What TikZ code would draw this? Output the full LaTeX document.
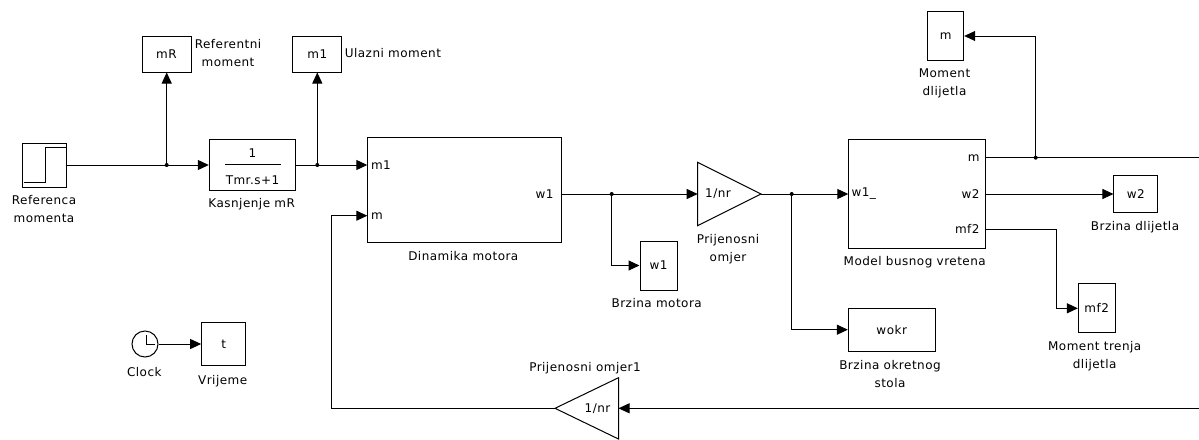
\documentclass[tikz,border=0pt]{standalone}
\usepackage{fontspec}
\setmainfont{DejaVu Sans}[LetterSpace=4]
\usetikzlibrary{arrows.meta}
\begin{document}
\begin{tikzpicture}[x=1pt,y=-1pt,line width=1pt,
  font=\fontsize{12}{18.4}\selectfont,
  blk/.style={draw,line width=1pt,inner sep=0pt},
  lbl/.style={inner sep=0pt,align=center,anchor=north},
  prt/.style={inner sep=0pt},
  arr/.style={-{Triangle[length=11pt,width=10pt]}},
  jdot/.style={circle,fill,inner sep=0pt,minimum size=4pt}]
\useasboundingbox (0,0) rectangle (1199,439);

% ---- blocks ----
\node[blk,minimum width=44pt,minimum height=44pt] (step) at (44,165) {};
\draw[line width=0.9pt] (23.5,182.7) -- (45,182.7) -- (45,147) -- (65.5,147);
\node[blk,minimum width=49pt,minimum height=36pt] (mR) at (166.5,54) {mR};
\node[blk,minimum width=49pt,minimum height=36pt] (mone) at (317.3,54) {m1};
\node[blk,minimum width=86.4pt,minimum height=51.4pt] (kas) at (252.5,165) {};
\node[prt] (kasnum) at (252.5,153.5) {1};
\draw (225,164) -- (280.7,164);
\node[prt] (kasden) at (252.5,180) {Tmr.s+1};
\node[blk,minimum width=194.4pt,minimum height=104.6pt] (din) at (464.5,190) {};
\coordinate (dinA) at (367.3,165);
\coordinate (dinB) at (367.3,215.7);
\coordinate (dinO) at (561.7,194);
\node[prt,anchor=west] (pdinA) at (370.5,165) {m1};
\node[prt,anchor=west] (pdinB) at (370.5,215.7) {m};
\node[prt,anchor=east] (pdinO) at (554,194) {w1};

\draw (697.7,162.3) -- (697.7,225.7) -- (761,194) -- cycle;
\coordinate (g1in) at (697.7,194);
\coordinate (g1out) at (761,194);
\node[prt] (g1txt) at (718,194) {1/nr};

\node[blk,minimum width=37pt,minimum height=49pt] (w1box) at (658.5,265.5) {w1};
\node[blk,minimum width=86.7pt,minimum height=42.7pt] (wokr) at (891.7,329.7) {wokr};

\node[blk,minimum width=136.7pt,minimum height=109pt] (model) at (916.7,193.8) {};
\coordinate (modI) at (848.3,194);
\coordinate (modM) at (985,157.7);
\coordinate (modW) at (985,194);
\coordinate (modF) at (985,229);
\node[prt,anchor=west] (pmodI) at (851,194) {w1\_};
\node[prt,anchor=east] (pmodM) at (980,157.7) {m};
\node[prt,anchor=east] (pmodW) at (980,194) {w2};
\node[prt,anchor=east] (pmodF) at (980,229) {mf2};

\node[blk,minimum width=36pt,minimum height=48.6pt] (mbox) at (945.7,36) {m};
\node[blk,minimum width=43.7pt,minimum height=37.4pt] (w2box) at (1135.8,194) {w2};
\node[blk,minimum width=36.7pt,minimum height=49.3pt] (mftwo) at (1096.7,308.3) {mf2};

\draw (618.5,377.7) -- (618.5,439) -- (555,408.3) -- cycle;
\coordinate (g2in) at (618.5,408.3);
\coordinate (g2out) at (555,408.3);
\node[prt] (g2txt) at (597.5,408.3) {1/nr};

\node[draw,circle,minimum size=26pt,inner sep=0pt] (clk) at (145,344) {};
\draw (146,335) -- (146,344.5) -- (155,344.5);
\node[blk,minimum width=44.3pt,minimum height=42.3pt] (tbox) at (223.8,344) {t};

% ---- labels ----
\node[lbl] (lstep) at (44,194.5) {Referenca\\momenta};
\node[lbl] (lmR) at (228,38.5) {Referentni\\moment};
\node[prt,anchor=west] (lmone) at (344.3,53) {Ulazni moment};
\node[lbl] (lkas) at (251.7,198.2) {Kasnjenje mR};
\node[lbl] (ldin) at (463.3,250.5) {Dinamika motora};
\node[lbl] (lg1) at (728,233.8) {Prijenosni\\omjer};
\node[lbl] (lw1) at (656.7,297.8) {Brzina motora};
\node[lbl] (lwokr) at (890,359.8) {Brzina okretnog\\stola};
\node[lbl] (lmodel) at (914.7,256.2) {Model busnog vretena};
\node[lbl] (lmbox) at (944.5,67.8) {Moment\\dlijetla};
\node[lbl] (lw2) at (1135,221.2) {Brzina dlijetla};
\node[lbl] (lmf2) at (1094.7,340.5) {Moment trenja\\dlijetla};
\node[lbl] (lclk) at (144.3,367.2) {Clock};
\node[lbl] (lt) at (222.7,374.5) {Vrijeme};
\node[lbl] (lg2) at (585,362.2) {Prijenosni omjer1};

% ---- junctions ----
\coordinate (j1) at (166.7,165);
\coordinate (j2) at (317.3,165);
\coordinate (j3) at (611.7,194);
\coordinate (j4) at (791.7,194);
\coordinate (j5) at (1035.7,157.7);
\coordinate (mfc) at (1056.7,229);
\coordinate (rightM) at (1199,157.7);
\coordinate (rightF) at (1199,408.3);
\coordinate (fb1) at (331.7,408.3);
\coordinate (fb2) at (331.7,215.7);

% ---- connectors ----
\draw (step.east) -- (j1);
\draw[arr] (j1) -- (kas.west);
\draw[arr] (j1) -- (j1 |- mR.south);
\draw (kas.east) -- (j2);
\draw[arr] (j2) -- (dinA);
\draw[arr] (j2) -- (j2 |- mone.south);
\draw (dinO) -- (j3);
\draw[arr] (j3) -- (g1in);
\draw[arr] (j3) |- (w1box.west);
\draw (g1out) -- (j4);
\draw[arr] (j4) -- (modI);
\draw[arr] (j4) |- (wokr.west);
\draw (modM) -- (rightM);
\draw[arr] (j5) |- (mbox.east);
\draw[arr] (modW) -- (w2box.west);
\draw[arr] (modF) -- (mfc) |- (mftwo.west);
\draw[arr] (rightF) -- (g2in);
\draw[arr] (g2out) -- (fb1) -- (fb2) -- (dinB);
\draw[arr] (clk.east) -- (tbox.west);

\node[jdot] at (j1) {};
\node[jdot] at (j2) {};
\node[jdot] at (j3) {};
\node[jdot] at (j4) {};
\node[jdot] at (j5) {};
\end{tikzpicture}
\end{document}
